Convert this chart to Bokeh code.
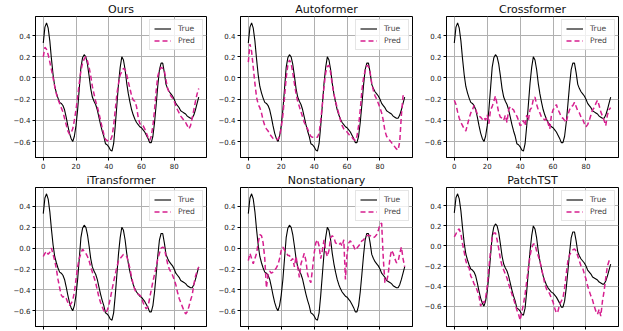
from bokeh.plotting import figure
from bokeh.layouts import column, row
from bokeh.models import Range1d, FixedTicker, Legend, LegendItem, CustomLabelingPolicy
from bokeh.embed import file_html
from bokeh.resources import INLINE

steps = list(range(96))

true_vals = [0.33, 0.48, 0.52, 0.47, 0.35, 0.18, 0.03, -0.08, -0.14, -0.19,
             -0.23, -0.24, -0.26, -0.30, -0.37, -0.45, -0.52, -0.57, -0.60, -0.55,
             -0.45, -0.30, -0.10, 0.10, 0.19, 0.22, 0.20, 0.13, 0.02, -0.10,
             -0.18, -0.22, -0.25, -0.30, -0.37, -0.44, -0.50, -0.55, -0.62, -0.63,
             -0.65, -0.68, -0.69, -0.62, -0.45, -0.25, -0.05, 0.10, 0.20, 0.17,
             0.08, -0.05, -0.15, -0.23, -0.30, -0.35, -0.39, -0.42, -0.44, -0.46,
             -0.47, -0.49, -0.51, -0.54, -0.57, -0.61, -0.61, -0.55, -0.42, -0.25,
             -0.07, 0.08, 0.14, 0.14, 0.05, -0.06, -0.10, -0.13, -0.15, -0.17,
             -0.20, -0.24, -0.26, -0.28, -0.31, -0.32, -0.33, -0.34, -0.36, -0.37,
             -0.38, -0.38, -0.35, -0.30, -0.24, -0.18]

pred_ours = [0.20, 0.29, 0.27, 0.22, 0.15, 0.08, 0.00, -0.08, -0.15, -0.20,
             -0.24, -0.28, -0.32, -0.38, -0.44, -0.50, -0.53, -0.52, -0.48, -0.40,
             -0.30, -0.18, -0.05, 0.07, 0.14, 0.18, 0.20, 0.16, 0.10, 0.02,
             -0.08, -0.15, -0.22, -0.27, -0.33, -0.40, -0.47, -0.53, -0.58, -0.59,
             -0.60, -0.59, -0.55, -0.45, -0.30, -0.15, -0.05, 0.03, 0.06, 0.09,
             0.08, 0.03, -0.04, -0.10, -0.17, -0.21, -0.22, -0.27, -0.37, -0.43,
             -0.45, -0.45, -0.48, -0.52, -0.56, -0.59, -0.55, -0.45, -0.30, -0.12,
             0.02, 0.07, 0.10, 0.09, 0.07, -0.02, -0.10, -0.14, -0.17, -0.19,
             -0.22, -0.26, -0.30, -0.33, -0.36, -0.38, -0.40, -0.42, -0.45, -0.48,
             -0.45, -0.38, -0.30, -0.22, -0.15, -0.10]

pred_autoformer = [0.15, 0.32, 0.25, 0.10, -0.05, -0.18, -0.25, -0.28, -0.33, -0.40,
                   -0.45, -0.48, -0.50, -0.53, -0.55, -0.57, -0.58, -0.58, -0.58, -0.55,
                   -0.47, -0.35, -0.18, 0.00, 0.12, 0.17, 0.14, 0.05, -0.05, -0.15,
                   -0.22, -0.27, -0.32, -0.37, -0.42, -0.45, -0.48, -0.52, -0.55, -0.56,
                   -0.56, -0.56, -0.56, -0.52, -0.40, -0.25, -0.08, 0.05, 0.11, 0.12,
                   0.05, -0.06, -0.15, -0.22, -0.28, -0.34, -0.40, -0.45, -0.48, -0.49,
                   -0.51, -0.53, -0.55, -0.56, -0.58, -0.59, -0.55, -0.45, -0.30, -0.12,
                   0.00, 0.07, 0.12, 0.11, 0.05, -0.05, -0.12, -0.17, -0.20, -0.24,
                   -0.28, -0.33, -0.40, -0.50, -0.55, -0.57, -0.59, -0.61, -0.63, -0.65,
                   -0.67, -0.68, -0.60, -0.35, -0.17, -0.14]

pred_crossformer = [-0.21, -0.25, -0.32, -0.38, -0.42, -0.45, -0.48, -0.50, -0.44, -0.38,
                    -0.33, -0.30, -0.26, -0.30, -0.34, -0.36, -0.37, -0.39, -0.37, -0.40,
                    -0.35, -0.43, -0.30, -0.27, -0.22, -0.17, -0.25, -0.33, -0.37, -0.38,
                    -0.40, -0.35, -0.42, -0.30, -0.27, -0.29, -0.30, -0.34, -0.36, -0.40,
                    -0.45, -0.44, -0.40, -0.45, -0.35, -0.40, -0.30, -0.28, -0.20, -0.18,
                    -0.25, -0.30, -0.33, -0.37, -0.38, -0.40, -0.38, -0.43, -0.48, -0.35,
                    -0.30, -0.28, -0.25, -0.30, -0.33, -0.37, -0.38, -0.40, -0.42, -0.35,
                    -0.30, -0.27, -0.26, -0.23, -0.27, -0.31, -0.33, -0.37, -0.39, -0.43,
                    -0.46, -0.44, -0.40, -0.35, -0.30, -0.28, -0.24, -0.21, -0.26, -0.32,
                    -0.36, -0.40, -0.45, -0.35, -0.30, -0.28]

pred_itransformer = [-0.08, -0.05, -0.03, -0.06, -0.04, 0.00, -0.06, -0.12, -0.20, -0.30,
                     -0.38, -0.45, -0.47, -0.46, -0.48, -0.52, -0.55, -0.53, -0.50, -0.42,
                     -0.30, -0.18, -0.10, -0.05, -0.01, -0.03, -0.05, -0.08, -0.12, -0.18,
                     -0.23, -0.28, -0.33, -0.40, -0.47, -0.52, -0.56, -0.60, -0.62, -0.60,
                     -0.55, -0.48, -0.40, -0.32, -0.25, -0.18, -0.12, -0.10, -0.08, -0.06,
                     -0.07, -0.08, -0.13, -0.20, -0.28, -0.35, -0.40, -0.43, -0.44, -0.45,
                     -0.47, -0.52, -0.56, -0.58, -0.56, -0.48, -0.40, -0.32, -0.25, -0.18,
                     -0.10, -0.05, 0.00, 0.01, 0.00, -0.08, -0.15, -0.20, -0.23, -0.26,
                     -0.30, -0.35, -0.42, -0.48, -0.52, -0.56, -0.60, -0.63, -0.61, -0.56,
                     -0.50, -0.45, -0.35, -0.27, -0.22, -0.18]

pred_nonstationary = [-0.12, -0.05, -0.10, -0.15, -0.10, -0.05, 0.05, 0.13, 0.12, 0.05,
                      -0.10, -0.38, -0.25, -0.22, -0.24, -0.23, -0.21, -0.19, -0.16, -0.10,
                      -0.02, 0.01, -0.02, -0.04, -0.07, -0.07, -0.12, -0.10, -0.18, -0.08,
                      -0.18, -0.28, -0.15, -0.10, -0.05, -0.12, -0.25, -0.30, -0.33, -0.20,
                      -0.05, 0.05, 0.08, 0.02, -0.10, -0.02, 0.08, -0.03, -0.08, -0.02,
                      0.10, 0.12, 0.10, 0.05, 0.04, 0.03, 0.05, 0.02, 0.08, -0.30,
                      -0.05, 0.05, 0.07, 0.04, 0.02, -0.02, 0.00, 0.02, 0.04, 0.07,
                      0.08, 0.10, 0.12, 0.12, 0.12, 0.11, 0.10, 0.11, 0.13, 0.17,
                      0.23, 0.24, -0.10, -0.33, -0.32, -0.25, -0.10, -0.02, -0.05, -0.10,
                      -0.14, -0.13, -0.05, 0.01, -0.10, -0.18]

pred_patchtst = [0.09, 0.12, 0.16, 0.17, 0.12, 0.02, -0.06, -0.15, -0.20, -0.22,
                 -0.30, -0.33, -0.38, -0.40, -0.45, -0.50, -0.60, -0.55, -0.57, -0.52,
                 -0.40, -0.22, -0.05, 0.08, 0.13, 0.13, 0.06, -0.03, -0.13, -0.20,
                 -0.24, -0.28, -0.32, -0.38, -0.43, -0.48, -0.53, -0.58, -0.64, -0.68,
                 -0.74, -0.66, -0.58, -0.48, -0.35, -0.22, -0.10, -0.02, 0.02, 0.02,
                 -0.05, -0.10, -0.15, -0.23, -0.30, -0.38, -0.43, -0.45, -0.48, -0.52,
                 -0.56, -0.62, -0.67, -0.65, -0.58, -0.55, -0.52, -0.42, -0.28, -0.15,
                 -0.09, -0.06, -0.04, -0.03, -0.05, -0.10, -0.15, -0.20, -0.22, -0.28,
                 -0.33, -0.40, -0.45, -0.50, -0.54, -0.60, -0.65, -0.68, -0.63, -0.70,
                 -0.55, -0.45, -0.32, -0.20, -0.15, -0.12]

titles = ["Ours", "Autoformer", "Crossformer", "iTransformer", "Nonstationary", "PatchTST"]
preds = [pred_ours, pred_autoformer, pred_crossformer,
         pred_itransformer, pred_nonstationary, pred_patchtst]

x_ticks = [0, 20, 40, 60, 80]
y_ticks = [-0.6, -0.4, -0.2, 0.0, 0.2, 0.4]
y_labels = {v: ("%.1f" % v).replace("-", "\u2212") for v in y_ticks}

PRED_COLOR = "#d61f8f"
FONT = "DejaVu Sans"

COL_LEFT = [35, 27, 28]
COL_FRAME = [171, 172, 172]
COL_RIGHT = [7, 6, 3]
ROW_TOP = [16, 15]
ROW_FRAME = [141, 139]
ROW_BOTTOM = [14, 6]


def make_panel(i):
    pred = preds[i]
    r, c = divmod(i, 3)
    allv = true_vals + pred
    lo, hi = min(allv), max(allv)
    span = hi - lo
    x_lo, x_hi = min(steps), max(steps)
    xspan = x_hi - x_lo
    p = figure(frame_width=COL_FRAME[c], frame_height=ROW_FRAME[r],
               output_backend="svg", toolbar_location=None,
               x_range=Range1d(x_lo - 0.05 * xspan, x_hi + 0.05 * xspan),
               y_range=Range1d(lo - 0.05 * span, hi + 0.05 * span),
               min_border_left=COL_LEFT[c], min_border_right=COL_RIGHT[c],
               min_border_top=ROW_TOP[r], min_border_bottom=ROW_BOTTOM[r],
               title=titles[i])
    p.title.text_font = FONT
    p.title.text_font_size = "11px"
    p.title.text_font_style = "normal"
    p.title.text_color = "#111111"
    p.title.align = "center"
    p.title.standoff = 1
    p.title.offset = 0
    p.outline_line_color = "black"
    p.outline_line_width = 1
    p.background_fill_color = "white"
    p.border_fill_color = "white"

    p.xaxis.ticker = FixedTicker(ticks=x_ticks)
    p.yaxis.ticker = FixedTicker(ticks=y_ticks)
    p.yaxis.major_label_overrides = y_labels
    for ax in (p.xaxis, p.yaxis):
        ax.axis_line_color = "black"
        ax.major_tick_line_color = "black"
        ax.major_tick_out = 3
        ax.major_tick_in = 0
        ax.minor_tick_line_color = None
        ax.major_label_text_font = FONT
        ax.major_label_text_font_size = "7px"
        ax.major_label_text_color = "#222222"
        ax.major_label_standoff = 2
    if r == 1:
        # the reference image is cropped just below the bottom tick marks
        p.xaxis.major_label_policy = CustomLabelingPolicy(
            code="const all = [...indices]; for (const k of all) indices.unset(k);")
    p.grid.grid_line_color = "#b0b0b0"
    p.grid.grid_line_width = 1

    l_true = p.line(steps, true_vals, line_color="black", line_width=1.1)
    l_pred = p.line(steps, pred, line_color=PRED_COLOR, line_width=1.5,
                    line_dash="5 3")
    legend = Legend(items=[LegendItem(label="True", renderers=[l_true]),
                           LegendItem(label="Pred", renderers=[l_pred])],
                    location="top_right")
    legend.label_text_font = FONT
    legend.label_text_font_size = "7.6px"
    legend.label_height = 9
    legend.glyph_height = 9
    legend.glyph_width = 17
    legend.spacing = 3
    legend.padding = 4
    legend.margin = 3
    legend.label_standoff = 7
    legend.border_line_color = "#cccccc"
    legend.background_fill_alpha = 0.8
    p.add_layout(legend)
    return p


panels = [make_panel(i) for i in range(6)]
layout = column(row(*panels[:3]), row(*panels[3:]))

open("out.html", "w").write(file_html(layout, INLINE))
